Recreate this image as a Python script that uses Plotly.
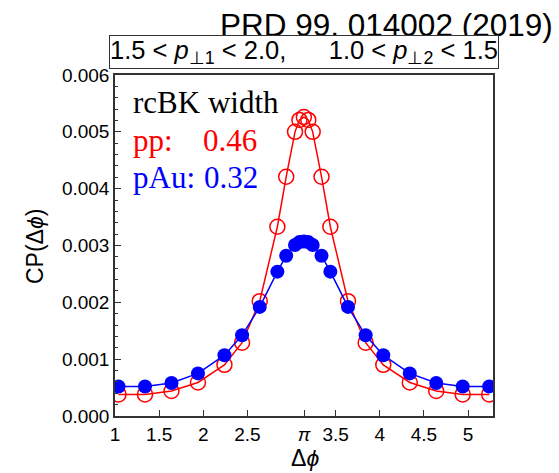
import plotly.graph_objects as go

# Delta phi sample points
dphi = [1.04, 1.34, 1.64, 1.94, 2.24, 2.44, 2.64, 2.84, 2.94, 3.04, 3.09, 3.14,
        3.19, 3.24, 3.34, 3.44, 3.64, 3.84, 4.04, 4.34, 4.64, 4.94, 5.24]
# pp (red, open circles)
cp_pp = [0.00038, 0.00038, 0.00044, 0.00059, 0.00090, 0.00129, 0.00202, 0.00333,
         0.00421, 0.00500, 0.00521, 0.00526, 0.00521, 0.00500, 0.00421, 0.00333,
         0.00202, 0.00129, 0.00090, 0.00059, 0.00044, 0.00038, 0.00038]
# pAu (blue, filled circles)
cp_pau = [0.00052, 0.00052, 0.00058, 0.00075, 0.00107, 0.00142, 0.00192, 0.00254,
          0.00282, 0.00301, 0.00306, 0.00307, 0.00306, 0.00301, 0.00282, 0.00254,
          0.00192, 0.00142, 0.00107, 0.00075, 0.00058, 0.00052, 0.00052]

xtick_vals = [1, 1.5, 2, 2.5, 3.141592653589793, 3.5, 4, 4.5, 5]
xtick_text = ["1", "1.5", "2", "2.5", "<i>π</i>", "3.5", "4", "4.5", "5"]

W, H = 559, 473
ml, mr, mt, mb = 115, 66, 75, 57
pw, ph = W - ml - mr, H - mt - mb

def px(xp):
    return (xp - ml) / pw

def py(yp):
    return (H - mb - yp) / ph

fig = go.Figure()
fig.add_trace(go.Scatter(
    x=dphi, y=cp_pp, mode="lines+markers",
    line=dict(color="#ff0000", width=1.5),
    marker=dict(symbol="circle-open", size=15, color="#ff0000", line=dict(width=1.5)),
    showlegend=False))
fig.add_trace(go.Scatter(
    x=dphi, y=cp_pau, mode="lines+markers",
    line=dict(color="#0000ff", width=1.5),
    marker=dict(symbol="circle", size=14, color="#0000ff"),
    showlegend=False))

axis_common = dict(showgrid=False, zeroline=False, showline=True, linecolor="#333333",
                   linewidth=1.5, mirror=True, ticks="inside", tickcolor="#333333",
                   tickfont=dict(family="Liberation Sans, Arial", size=19, color="black"))

fig.update_xaxes(range=[1, 2 * 3.141592653589793 - 1], tickvals=xtick_vals,
                 ticktext=xtick_text, ticklen=6, **axis_common)
fig.update_yaxes(range=[0, 0.006], dtick=0.001, tickformat=".3f", ticklen=6,
                 minor=dict(dtick=0.0002, ticks="inside", ticklen=3, tickcolor="#333333"),
                 **axis_common)

serif = "Liberation Serif, Times New Roman"
sans = "Liberation Sans, Arial"
sp = "&nbsp;"
box_text = ("1.5" + sp + "&lt;" + sp + "<i>p</i><sub>⊥1</sub>" + sp + "&lt;" + sp + "2.0,"
            + sp * 6 + "1.0" + sp + "&lt;" + sp + "<i>p</i><sub>⊥2</sub>" + sp + "&lt;" + sp + "1.5")
ann = [
    dict(text="PRD 99, 014002 (2019)", x=px(555), y=py(25), xanchor="right", yanchor="middle",
         font=dict(family=sans, size=31.5, color="black")),
    dict(text=box_text,
         x=px(303.5), y=py(51.5), xanchor="center", yanchor="middle",
         font=dict(family=sans, size=25.5, color="black"),
         bordercolor="#333333", borderwidth=1, borderpad=0, bgcolor="white"),
    dict(text="rcBK width", x=px(131), y=py(102), xanchor="left", yanchor="middle",
         font=dict(family=serif, size=31, color="black")),
    dict(text="pp:", x=px(131), y=py(140), xanchor="left", yanchor="middle",
         font=dict(family=serif, size=31, color="#ff0000")),
    dict(text="0.46", x=px(201), y=py(140), xanchor="left", yanchor="middle",
         font=dict(family=serif, size=31, color="#ff0000")),
    dict(text="pAu:", x=px(131), y=py(177), xanchor="left", yanchor="middle",
         font=dict(family=serif, size=31, color="#0000ff")),
    dict(text="0.32", x=px(202), y=py(177), xanchor="left", yanchor="middle",
         font=dict(family=serif, size=31, color="#0000ff")),
    dict(text="Δ<i>ϕ</i>", x=px(305), y=py(458), xanchor="center", yanchor="middle",
         font=dict(family=sans, size=23, color="black")),
    dict(text="CP(Δ<i>ϕ</i>)", x=px(35), y=py(247), xanchor="center", yanchor="middle",
         textangle=-90, font=dict(family=sans, size=23, color="black")),
]
for a in ann:
    a.update(xref="paper", yref="paper", showarrow=False)
fig.update_layout(width=W, height=H, margin=dict(l=ml, r=mr, t=mt, b=mb),
                  paper_bgcolor="white", plot_bgcolor="white", annotations=ann)

fig.write_html("out.html")
